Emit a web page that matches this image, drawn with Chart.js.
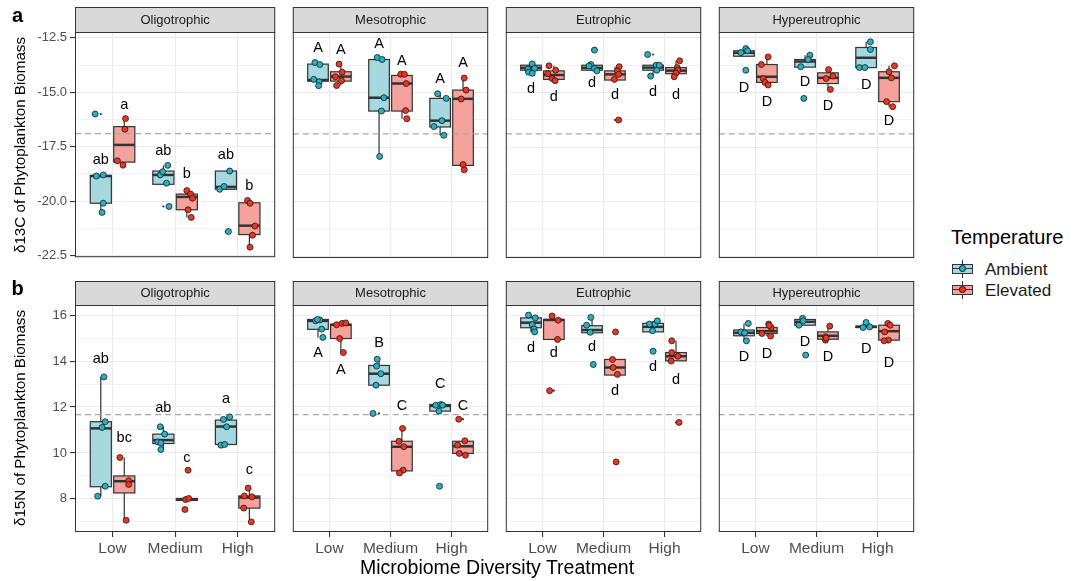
<!DOCTYPE html>
<html>
<head>
<meta charset="utf-8">
<script src="https://cdn.jsdelivr.net/npm/chart.js@4.4.1/dist/chart.umd.min.js"></script>
<style>
  html, body { margin: 0; padding: 0; background: #ffffff; }
  body { width: 1077px; height: 581px; position: relative; overflow: hidden;
         font-family: "Liberation Sans", Arial, Helvetica, sans-serif; }
  canvas { position: absolute; }
  .txt { position: absolute; white-space: nowrap; color: #000; line-height: 1; }
  .kpart { position: absolute; box-sizing: border-box; }
</style>
</head>
<body>
<script>
// ---- Data -------------------------------------------------------------
const trophicStates = ['Oligotrophic', 'Mesotrophic', 'Eutrophic', 'Hypereutrophic'];
const diversityLevels = ['Low', 'Medium', 'High'];
const temperatures = ['Ambient', 'Elevated'];

// Box summaries: [lower whisker, Q1, median, Q3, upper whisker]
// indexed [trophic state][diversity level][Ambient, Elevated]
const d13cBoxes = [
  [[[-20.52, -20.10, -18.85, -18.82, -18.80], [-18.35, -18.21, -17.42, -16.58, -16.21]],
   [[-19.23, -19.23, -18.80, -18.62, -18.36], [-20.75, -20.40, -19.81, -19.68, -19.52]],
   [[-19.46, -19.46, -19.35, -18.62, -18.62], [-22.12, -21.54, -21.13, -20.08, -19.97]]],
  [[[-14.69, -14.48, -14.43, -13.70, -13.63], [-14.68, -14.48, -14.27, -14.05, -13.70]],
   [[-17.93, -15.85, -15.24, -13.49, -13.40], [-16.20, -15.85, -14.59, -14.22, -14.16]],
   [[-16.96, -16.58, -16.29, -15.27, -15.06], [-18.54, -18.34, -15.29, -14.89, -14.34]]],
  [[[-14.12, -13.98, -13.87, -13.75, -13.69], [-14.46, -14.40, -14.20, -14.01, -13.78]],
   [[-14.01, -13.98, -13.87, -13.75, -13.72], [-14.43, -14.43, -14.17, -14.01, -13.82]],
   [[-14.25, -13.98, -13.86, -13.75, -13.75], [-14.28, -14.14, -14.00, -13.86, -13.55]]],
  [[[-13.34, -13.34, -13.18, -13.09, -12.99], [-14.66, -14.54, -14.28, -13.72, -13.37]],
   [[-13.84, -13.84, -13.58, -13.49, -13.29], [-14.86, -14.59, -14.33, -14.10, -13.95]],
   [[-13.86, -13.86, -13.41, -12.94, -12.68], [-15.65, -15.42, -14.33, -14.05, -13.78]]]
];

// Replicate measurements: [horizontal jitter, value]
const d13cPoints = [
  [[[[-0.09, -16.00], [-0.07, -18.85], [0.04, -18.80], [0.04, -20.10], [0.02, -20.52]],
    [[0.02, -16.21], [0.01, -16.70], [-0.11, -18.15], [-0.02, -18.35]]],
   [[[0.07, -18.36], [-0.05, -18.80], [-0.01, -18.65], [0.05, -19.18], [0.09, -20.25]],
    [[0.00, -19.52], [0.06, -19.68], [0.09, -19.87], [0.02, -20.40], [0.07, -20.75]]],
   [[[0.06, -18.62], [-0.10, -19.46], [-0.03, -19.33], [0.04, -21.40]],
    [[-0.03, -19.97], [0.01, -20.10], [0.09, -21.15], [0.05, -21.57], [0.01, -22.12]]]],
  [[[[-0.05, -13.63], [0.03, -13.72], [-0.07, -14.40], [0.02, -14.51], [0.01, -14.69]],
    [[-0.03, -13.70], [0.02, -14.07], [-0.09, -14.28], [0.01, -14.46], [-0.07, -14.68]]],
   [[[-0.03, -13.40], [0.05, -13.49], [0.08, -15.24], [0.04, -15.85], [0.01, -17.93]],
    [[-0.02, -14.16], [0.04, -14.17], [0.07, -14.59], [0.06, -15.83], [0.08, -16.20]]],
   [[[-0.04, -15.06], [0.10, -15.27], [0.03, -16.29], [-0.10, -16.56], [0.06, -16.96]],
    [[0.02, -14.34], [0.05, -14.89], [-0.03, -15.30], [0.00, -18.30], [0.02, -18.54]]]],
  [[[[0.02, -13.69], [-0.05, -13.93], [0.06, -13.90], [-0.04, -14.07], [0.02, -14.12]],
    [[-0.08, -13.78], [0.03, -13.98], [-0.10, -14.14], [-0.03, -14.36], [0.02, -14.46]]],
   [[[0.04, -13.06], [-0.02, -13.72], [-0.05, -13.79], [0.04, -13.90], [0.08, -14.01]],
    [[0.07, -13.82], [0.04, -14.01], [0.06, -14.17], [-0.01, -14.40], [0.06, -16.26]]],
   [[[-0.09, -13.26], [0.05, -13.75], [0.10, -13.75], [0.06, -13.98], [-0.04, -14.25]],
    [[0.06, -13.55], [0.02, -13.86], [0.03, -13.98], [0.00, -14.11], [-0.03, -14.28]]]],
  [[[[-0.05, -13.17], [0.03, -12.99], [0.06, -13.09], [0.03, -13.98]],
    [[0.02, -13.37], [-0.09, -13.72], [-0.06, -14.36], [-0.03, -14.54], [0.02, -14.66]]],
   [[[0.08, -13.29], [0.05, -13.49], [-0.07, -13.82], [-0.02, -15.27]],
    [[0.01, -13.95], [0.08, -14.25], [-0.03, -14.36], [0.04, -14.86]]],
   [[[0.07, -12.68], [0.07, -13.03], [-0.11, -13.86], [-0.02, -13.86]],
    [[0.09, -13.78], [0.00, -14.05], [0.04, -14.33], [-0.04, -15.42], [0.06, -15.65]]]]
];

const d13cLetterText = [
  [['ab', 'a'], ['ab', 'b'], ['ab', 'b']],
  [['A', 'A'], ['A', 'A'], ['A', 'A']],
  [['d', 'd'], ['d', 'd'], ['d', 'd']],
  [['D', 'D'], ['D', 'D'], ['D', 'D']]
];
const d13cLetterY = [
  [[-18.13, -15.57], [-17.70, -18.74], [-17.89, -19.30]],
  [[-12.96, -13.06], [-12.76, -13.57], [-14.36, -13.64]],
  [[-14.86, -15.22], [-14.55, -15.12], [-14.97, -15.12]],
  [[-14.81, -15.42], [-14.51, -15.62], [-14.66, -16.29]]
];
const d13cReference = -16.9;
const d13cTicks = [-22.5, -20.0, -17.5, -15.0, -12.5];
const d13cMinorTicks = [-21.25, -18.75, -16.25, -13.75];
const d13cRange = [-22.58, -12.23];

const d15nBoxes = [
  [[[8.12, 8.53, 11.07, 11.36, 13.31], [7.07, 8.26, 8.77, 9.00, 9.80]],
   [[10.15, 10.41, 10.56, 10.82, 11.14], [7.94, 7.94, 7.97, 8.02, 8.03]],
   [[10.34, 10.37, 11.15, 11.43, 11.57], [7.00, 7.60, 8.06, 8.13, 8.47]]],
  [[[15.03, 15.38, 15.75, 15.81, 15.81], [14.37, 14.98, 15.58, 15.60, 15.66]],
   [[12.95, 12.95, 13.45, 13.81, 14.08], [9.13, 9.22, 10.27, 10.51, 11.07]],
   [[11.82, 11.82, 12.05, 12.11, 12.11], [9.90, 9.98, 10.29, 10.51, 10.53]]],
  [[[15.27, 15.45, 15.67, 15.88, 16.00], [14.94, 14.94, 15.79, 15.81, 15.96]],
   [[15.23, 15.23, 15.35, 15.54, 15.90], [13.39, 13.39, 13.72, 14.07, 14.07]],
   [[15.27, 15.27, 15.49, 15.64, 15.75], [14.00, 14.01, 14.21, 14.37, 14.88]]],
  [[[14.88, 15.10, 15.23, 15.35, 15.64], [15.09, 15.20, 15.30, 15.46, 15.61]],
   [[15.56, 15.56, 15.71, 15.81, 15.86], [14.91, 14.95, 15.10, 15.27, 15.52]],
   [[15.46, 15.46, 15.49, 15.52, 15.68], [14.88, 14.91, 15.30, 15.56, 15.64]]]
];

const d15nPoints = [
  [[[[0.05, 13.31], [0.07, 11.36], [0.02, 11.11], [0.07, 8.55], [-0.05, 8.12]],
    [[-0.07, 9.80], [0.07, 8.79], [0.07, 8.63], [0.03, 7.07]]],
   [[[-0.05, 11.14], [0.02, 10.82], [-0.09, 10.48], [-0.04, 10.44], [-0.04, 10.15]],
    [[0.02, 9.25], [-0.02, 7.97], [0.03, 8.02], [-0.03, 7.54]]],
   [[[0.06, 11.57], [-0.04, 11.46], [0.01, 11.14], [-0.08, 10.34], [-0.02, 10.37]],
    [[-0.02, 8.47], [-0.08, 8.13], [0.04, 8.09], [-0.09, 7.60], [0.03, 7.00]]]],
  [[[[-0.04, 15.75], [0.03, 15.79], [0.06, 15.39], [0.08, 15.03], [-0.01, 15.81]],
    [[-0.07, 15.58], [0.02, 15.64], [0.08, 15.66], [-0.02, 14.98], [0.04, 14.37]]],
   [[[-0.03, 14.08], [-0.04, 13.78], [0.03, 13.45], [-0.05, 12.95], [-0.10, 11.72]],
    [[0.01, 11.07], [-0.05, 10.51], [0.03, 10.27], [0.02, 9.25], [-0.04, 9.13]]],
   [[[-0.07, 12.08], [0.01, 12.11], [0.04, 12.08], [-0.02, 11.82], [-0.01, 8.55]],
    [[-0.07, 11.47], [0.03, 10.53], [-0.09, 10.34], [-0.06, 9.98], [0.04, 9.90]]]],
  [[[[-0.04, 16.00], [0.07, 15.88], [0.02, 15.59], [0.05, 15.40], [0.06, 15.27]],
    [[-0.03, 15.96], [0.07, 15.78], [0.06, 14.94], [-0.07, 12.71]]],
   [[[-0.02, 15.90], [-0.09, 15.56], [-0.03, 15.25], [0.02, 13.85]],
    [[0.01, 15.27], [-0.04, 14.07], [-0.03, 13.72], [0.04, 13.42], [0.02, 9.61]]],
   [[[-0.06, 15.61], [0.03, 15.61], [0.07, 15.75], [-0.01, 15.32], [0.00, 14.43]],
    [[-0.07, 14.88], [-0.07, 14.37], [0.03, 14.21], [-0.08, 14.00], [0.05, 11.33]]]],
  [[[[0.07, 15.64], [-0.05, 15.27], [0.01, 15.23], [0.04, 14.88]],
    [[0.03, 15.61], [0.07, 15.46], [-0.08, 15.20], [0.06, 15.09], [0.04, 15.55]]],
   [[[-0.04, 15.86], [-0.10, 15.56], [-0.03, 15.75], [0.01, 14.26]],
    [[0.03, 15.52], [-0.04, 15.06], [-0.04, 14.91], [-0.03, 15.00]]],
   [[[0.00, 15.68], [-0.05, 15.46], [0.06, 15.49]],
    [[-0.02, 15.64], [0.02, 15.56], [-0.07, 15.27], [-0.01, 14.91], [-0.08, 14.88]]]]
];

const d15nLetterText = [
  [['ab', 'bc'], ['ab', 'c'], ['a', 'c']],
  [['A', 'A'], ['B', 'C'], ['C', 'C']],
  [['d', 'd'], ['d', 'd'], ['d', 'd']],
  [['D', 'D'], ['D', 'D'], ['D', 'D']]
];
const d15nLetterY = [
  [[14.11, 10.63], [11.94, 9.79], [12.37, 9.25]],
  [[14.36, 13.63], [14.80, 12.05], [13.00, 12.04]],
  [[14.58, 14.33], [14.62, 12.71], [13.72, 13.17]],
  [[14.19, 14.29], [14.84, 14.16], [14.52, 13.90]]
];
const d15nReference = 11.67;
const d15nTicks = [8, 10, 12, 14, 16];
const d15nMinorTicks = [7, 9, 11, 13, 15];
const d15nRange = [6.56, 16.44];

// ---- Appearance -------------------------------------------------------
const FONT = '"Liberation Sans", Arial, Helvetica, sans-serif';
const BOX_FILL = ['#A6D8DF', '#F4A29B'];
const POINT_FILL = ['#27B1C5', '#F0341D'];
const DODGE = [-0.1875, 0.1875];
const BOX_WIDTH = 0.3375;

const COL_LEFT = [75, 288, 501, 714];
const PANEL_W = 205;
const AXIS_W = 75;
const STRIP_TOP = [7, 281];
const STRIP_H = [25, 24];
const PANEL_H = [226, 227];
const BOTTOM_SPACE = [10, 45];

Chart.defaults.font.family = FONT;

const rowsCfg = [
  { boxes: d13cBoxes, points: d13cPoints, letters: d13cLetterText, letterY: d13cLetterY,
    ref: d13cReference, major: d13cTicks, minor: d13cMinorTicks, range: d13cRange,
    fmt: v => v.toFixed(1) },
  { boxes: d15nBoxes, points: d15nPoints, letters: d15nLetterText, letterY: d15nLetterY,
    ref: d15nReference, major: d15nTicks, minor: d15nMinorTicks, range: d15nRange,
    fmt: v => String(v) }
];

function isMajor(list, v) { return list.some(m => Math.abs(m - v) < 1e-6); }

// Box-and-whisker bodies; the reference line dataset is drawn over them
function boxLayer(boxes) {
  return {
    id: 'boxLayer',
    beforeDatasetsDraw(chart) {
      const { ctx, scales: { x, y } } = chart;
      const half = (x.getPixelForValue(BOX_WIDTH) - x.getPixelForValue(0)) / 2;
      ctx.save();
      boxes.forEach((level, li) => {
        level.forEach((s, t) => {
          const cx = x.getPixelForValue(li + 1 + DODGE[t]);
          const [lw, q1, med, q3, uw] = s.map(v => y.getPixelForValue(v));
          ctx.strokeStyle = '#333333';
          ctx.lineWidth = 1.2;
          ctx.beginPath();
          ctx.moveTo(cx, q3); ctx.lineTo(cx, uw);
          ctx.moveTo(cx, q1); ctx.lineTo(cx, lw);
          ctx.stroke();
          ctx.fillStyle = BOX_FILL[t];
          ctx.fillRect(cx - half, q3, 2 * half, q1 - q3);
          ctx.strokeRect(cx - half, q3, 2 * half, q1 - q3);
          ctx.lineWidth = 2.5;
          ctx.beginPath();
          ctx.moveTo(cx - half, med); ctx.lineTo(cx + half, med);
          ctx.stroke();
        });
      });
      ctx.restore();
    }
  };
}

// Significance letters above each group
function letterLayer(texts, ys) {
  return {
    id: 'letterLayer',
    afterDatasetsDraw(chart) {
      const { ctx, scales: { x, y } } = chart;
      ctx.save();
      ctx.font = '14.5px ' + FONT;
      ctx.fillStyle = '#000000';
      ctx.textAlign = 'center';
      ctx.textBaseline = 'middle';
      texts.forEach((level, li) => {
        level.forEach((txt, t) => {
          ctx.fillText(txt, x.getPixelForValue(li + 1 + DODGE[t]), y.getPixelForValue(ys[li][t]));
        });
      });
      ctx.restore();
    }
  };
}

// Facet strip above the panel and the panel frame
function frameLayer(title) {
  return {
    id: 'frameLayer',
    beforeDraw(chart) {
      const { ctx, chartArea: a } = chart;
      ctx.save();
      ctx.fillStyle = '#D9D9D9';
      ctx.fillRect(a.left, 0, a.right - a.left, a.top);
      ctx.strokeStyle = '#333333';
      ctx.lineWidth = 1;
      ctx.strokeRect(a.left + 0.5, 0.5, a.right - a.left - 1, a.top);
      ctx.fillStyle = '#1A1A1A';
      ctx.font = '13px ' + FONT;
      ctx.textAlign = 'center';
      ctx.textBaseline = 'middle';
      ctx.fillText(title, (a.left + a.right) / 2, a.top / 2 + 0.5);
      ctx.restore();
    },
    afterDraw(chart) {
      const { ctx, chartArea: a } = chart;
      ctx.save();
      ctx.strokeStyle = '#333333';
      ctx.lineWidth = 1;
      ctx.strokeRect(a.left + 0.5, a.top + 0.5, a.right - a.left - 1, a.bottom - a.top - 1);
      ctx.restore();
    }
  };
}

function makePanel(row, col) {
  const cfg = rowsCfg[row];
  const boxes = cfg.boxes[col];
  const pts = cfg.points[col];
  const padL = col === 0 ? AXIS_W : 0;
  const w = padL + PANEL_W;
  const h = STRIP_H[row] + PANEL_H[row] + BOTTOM_SPACE[row];
  const canvas = document.createElement('canvas');
  canvas.width = w; canvas.height = h;
  canvas.style.width = w + 'px'; canvas.style.height = h + 'px';
  canvas.style.left = (COL_LEFT[col] - padL) + 'px';
  canvas.style.top = STRIP_TOP[row] + 'px';
  document.body.appendChild(canvas);

  const seriesData = temperatures.map((_, t) => {
    const out = [];
    pts.forEach((level, li) => level[t].forEach(([dx, v]) => out.push({ x: li + 1 + DODGE[t] + dx, y: v })));
    return out;
  });
  const outliers = [];
  pts.forEach((level, li) => level.forEach((group, t) => {
    const lw = boxes[li][t][0], uw = boxes[li][t][4];
    group.forEach(([, v]) => { if (v < lw - 1e-9 || v > uw + 1e-9) outliers.push({ x: li + 1 + DODGE[t], y: v }); });
  }));

  const allTicks = cfg.major.concat(cfg.minor).sort((a, b) => a - b);
  const showX = row === 1;
  const showY = col === 0;

  new Chart(canvas, {
    type: 'scatter',
    data: {
      datasets: [
        { type: 'line', label: 'reference', data: [{ x: 0.4, y: cfg.ref }, { x: 3.6, y: cfg.ref }],
          borderColor: '#A8A8A8', borderWidth: 1.3, borderDash: [6, 4], pointRadius: 0, order: 5 },
        { label: 'outliers', data: outliers, pointRadius: 1.1, backgroundColor: '#333333',
          borderWidth: 0, order: 3 },
        { label: temperatures[0], data: seriesData[0], pointRadius: 3, backgroundColor: POINT_FILL[0],
          borderColor: '#1A1A1A', borderWidth: 0.8, order: 1 },
        { label: temperatures[1], data: seriesData[1], pointRadius: 3, backgroundColor: POINT_FILL[1],
          borderColor: '#1A1A1A', borderWidth: 0.8, order: 1 }
      ]
    },
    options: {
      responsive: false,
      animation: false,
      events: [],
      layout: { padding: { top: STRIP_H[row], bottom: showX ? 0 : BOTTOM_SPACE[row], left: 0, right: 0 } },
      plugins: { legend: { display: false }, tooltip: { enabled: false } },
      scales: {
        x: {
          type: 'linear', min: 0.4, max: 3.6,
          afterBuildTicks: s => { s.ticks = [1, 2, 3].map(v => ({ value: v })); },
          afterFit: s => { s.height = showX ? BOTTOM_SPACE[row] : 0; },
          border: { display: false },
          grid: { color: '#EBEBEB', lineWidth: 1.1, drawTicks: showX, tickLength: 5, tickColor: '#333333' },
          ticks: { display: showX, autoSkip: false, maxRotation: 0, padding: 2, color: '#4D4D4D',
                   font: { size: 15.5, family: FONT }, callback: v => diversityLevels[Math.round(v) - 1] }
        },
        y: {
          type: 'linear', min: cfg.range[0], max: cfg.range[1],
          afterBuildTicks: s => { s.ticks = allTicks.map(v => ({ value: v })); },
          afterFit: s => { s.width = padL; },
          border: { display: false },
          grid: {
            color: '#EBEBEB',
            lineWidth: c => (c.tick && isMajor(cfg.major, c.tick.value)) ? 1.1 : 0.7,
            drawTicks: showY, tickLength: 5,
            tickColor: c => (c.tick && isMajor(cfg.major, c.tick.value)) ? '#333333' : 'rgba(0,0,0,0)'
          },
          ticks: { display: showY, autoSkip: false, padding: 3, color: '#4D4D4D',
                   font: { size: 13, family: FONT },
                   callback: v => isMajor(cfg.major, v) ? cfg.fmt(v) : '' }
        }
      }
    },
    plugins: [frameLayer(trophicStates[col]), boxLayer(boxes), letterLayer(cfg.letters[col], cfg.letterY[col])]
  });
}

for (let r = 0; r < 2; r++) for (let c = 0; c < 4; c++) makePanel(r, c);

// ---- Titles, tags and legend -----------------------------------------
function addText(text, style) {
  const d = document.createElement('div');
  d.className = 'txt';
  d.textContent = text;
  Object.assign(d.style, style);
  document.body.appendChild(d);
  return d;
}
addText('a', { left: '17.5px', top: '15px', fontSize: '20px', fontWeight: 'bold', transform: 'translate(-50%,-50%)' });
addText('b', { left: '17.5px', top: '288px', fontSize: '20px', fontWeight: 'bold', transform: 'translate(-50%,-50%)' });
addText('δ13C of Phytoplankton Biomass', { left: '19.5px', top: '145px', fontSize: '15.2px', color: '#000',
  transform: 'translate(-50%,-50%) rotate(-90deg)' });
addText('δ15N of Phytoplankton Biomass', { left: '19.5px', top: '418px', fontSize: '15.2px', color: '#000',
  transform: 'translate(-50%,-50%) rotate(-90deg)' });
addText('Microbiome Diversity Treatment', { left: '497px', top: '568px', fontSize: '19.5px', color: '#000',
  transform: 'translate(-50%,-50%)' });

addText('Temperature', { left: '951px', top: '237px', fontSize: '20px', color: '#000', transform: 'translateY(-50%)' });
const keyCenters = [268.5, 289.5];
temperatures.forEach((name, t) => {
  const cy = keyCenters[t];
  const parts = [
    { left: '962px', top: (cy - 9) + 'px', width: '1.2px', height: '18px', background: '#333' },
    { left: '952px', top: (cy - 5) + 'px', width: '21px', height: '10px', background: BOX_FILL[t], border: '1px solid #333' },
    { left: '952px', top: (cy - 0.9) + 'px', width: '21px', height: '1.8px', background: '#333' },
    { left: (962.6 - 3.2) + 'px', top: (cy - 3.2) + 'px', width: '6.4px', height: '6.4px', background: POINT_FILL[t],
      border: '0.8px solid #1A1A1A', borderRadius: '50%' }
  ];
  parts.forEach(p => {
    const d = document.createElement('div');
    d.className = 'kpart';
    Object.assign(d.style, p);
    document.body.appendChild(d);
  });
  addText(name, { left: '985px', top: cy + 'px', fontSize: '17px', color: '#1A1A1A', transform: 'translateY(-50%)' });
});
</script>
</body>
</html>
